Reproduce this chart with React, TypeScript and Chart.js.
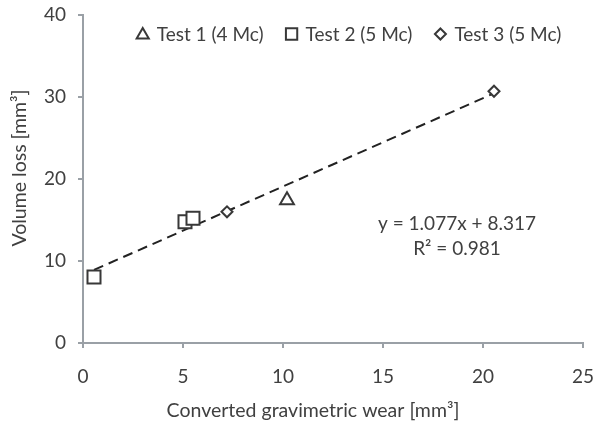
import React, { useEffect, useRef } from "react";
import { Chart, registerables } from "chart.js";

Chart.register(...registerables);

const seriesNames = ["Test 1 (4 Mc)", "Test 2 (5 Mc)", "Test 3 (5 Mc)"];
const test1X = [10.2];
const test1Y = [17.4];
const test2X = [0.55, 5.1, 5.5];
const test2Y = [8.05, 14.8, 15.2];
const test3X = [7.2, 20.55];
const test3Y = [16.0, 30.7];
const trendSlope = 1.077;
const trendIntercept = 8.317;
const rSquared = 0.981;
const xTicks = [0, 5, 10, 15, 20, 25];
const yTicks = [0, 10, 20, 30, 40];
const xTitle = "Converted gravimetric wear [mm³]";
const yTitle = "Volume loss [mm³]";

const FONT = "Lato, 'Open Sans', sans-serif";
const TEXT = "#404040";
const AXIS = "#9aa0a6";
const MARK = "#383838";

function pts(xs: number[], ys: number[]) {
  return xs.map((x, i) => ({ x, y: ys[i] }));
}

const styles = ["triangle", "rect", "rectRot"];

function drawMarker(ctx: CanvasRenderingContext2D, style: string, x: number, y: number, r: number) {
  ctx.beginPath();
  if (style === "triangle") {
    ctx.moveTo(x, y - r);
    ctx.lineTo(x + r * 0.866, y + r * 0.5);
    ctx.lineTo(x - r * 0.866, y + r * 0.5);
    ctx.closePath();
  } else if (style === "rect") {
    const s = r * Math.SQRT1_2;
    ctx.rect(x - s, y - s, 2 * s, 2 * s);
  } else {
    ctx.moveTo(x, y - r);
    ctx.lineTo(x + r, y);
    ctx.lineTo(x, y + r);
    ctx.lineTo(x - r, y);
    ctx.closePath();
  }
  ctx.fillStyle = "#ffffff";
  ctx.fill();
  ctx.stroke();
}

const overlayPlugin = {
  id: "overlay",
  afterDraw(chart: any) {
    const ctx: CanvasRenderingContext2D = chart.ctx;
    const area = chart.chartArea;
    ctx.save();
    // legend
    ctx.font = `19px ${FONT}`;
    ctx.textBaseline = "middle";
    ctx.textAlign = "left";
    const markerW = 12;
    const gapMT = 8;
    const gapItems = 22;
    const widths = seriesNames.map((n) => ctx.measureText(n).width);
    const total = widths.reduce((a, w) => a + markerW + gapMT + w, 0) + gapItems * (seriesNames.length - 1);
    let x = (area.left + area.right) / 2 + 16 - total / 2;
    const y = area.top + 19;
    const legendR = [7, 8, 5.5];
    seriesNames.forEach((n, i) => {
      ctx.strokeStyle = MARK;
      ctx.lineWidth = 2;
      drawMarker(ctx, styles[i], x + markerW / 2, y + (i === 0 ? 1 : 0), legendR[i]);
      ctx.fillStyle = TEXT;
      ctx.fillText(n, x + markerW + gapMT, y + 1);
      x += markerW + gapMT + widths[i] + gapItems;
    });
    // equation
    const sx = chart.scales.x;
    const sy = chart.scales.y;
    const cx = sx.getPixelForValue(18.7);
    const cy = sy.getPixelForValue(14.5);
    ctx.textAlign = "center";
    ctx.fillStyle = TEXT;
    ctx.font = `19px ${FONT}`;
    ctx.fillText(`y = ${trendSlope.toFixed(3)}x + ${trendIntercept.toFixed(3)}`, cx, cy);
    ctx.fillText(`R² = ${rSquared.toFixed(3)}`, cx, cy + 25);
    // axis titles
    ctx.font = `19.5px ${FONT}`;
    ctx.fillText(xTitle, (area.left + area.right) / 2 - 20, 411);
    ctx.translate(20, (area.top + area.bottom) / 2 - 11);
    ctx.rotate(-Math.PI / 2);
    ctx.fillText(yTitle, 0, 0);
    ctx.restore();
  },
};

export default function App() {
  const ref = useRef<HTMLCanvasElement | null>(null);
  useEffect(() => {
    if (!ref.current) return;
    const allX = [...test1X, ...test2X, ...test3X];
    const xMin = Math.min(...allX);
    const xMax = Math.max(...allX);
    const trend = [xMin, xMax].map((x) => ({ x, y: trendSlope * x + trendIntercept }));
    const markerCommon = {
      borderColor: MARK,
      backgroundColor: "#ffffff",
      pointBorderWidth: 2,
      showLine: false,
    };
    const chart = new Chart(ref.current, {
      type: "scatter",
      data: {
        datasets: [
          { label: seriesNames[0], data: pts(test1X, test1Y), pointStyle: "triangle", pointRadius: 8, order: 1, ...markerCommon },
          { label: seriesNames[1], data: pts(test2X, test2Y), pointStyle: "rect", pointRadius: 9.2, order: 1, ...markerCommon },
          { label: seriesNames[2], data: pts(test3X, test3Y), pointStyle: "rectRot", pointRadius: 5.5, order: 1, ...markerCommon },
          {
            label: "Linear fit",
            data: trend,
            type: "line",
            showLine: true,
            borderColor: "#222222",
            borderWidth: 2,
            borderDash: [10, 6],
            pointRadius: 0,
            fill: false,
            order: 10,
          } as any,
        ],
      },
      options: {
        responsive: false,
        animation: false,
        layout: { padding: { top: 15, right: 19, left: 0, bottom: 0 } },
        plugins: {
          legend: { display: false },
          tooltip: { enabled: false },
        },
        scales: {
          x: {
            type: "linear",
            min: xTicks[0],
            max: xTicks[xTicks.length - 1],
            afterBuildTicks: (s: any) => {
              s.ticks = xTicks.map((v) => ({ value: v }));
            },
            afterFit: (s: any) => {
              s.height = 89;
              s.paddingLeft = 0;
              s.paddingRight = 0;
            },
            ticks: { color: TEXT, font: { family: FONT, size: 19 }, padding: 17 },
            grid: { display: true, drawOnChartArea: false, drawTicks: true, tickLength: 5, color: AXIS, lineWidth: 2 },
            border: { display: true, color: AXIS, width: 2 },
            title: { display: false },
          },
          y: {
            type: "linear",
            min: yTicks[0],
            max: yTicks[yTicks.length - 1],
            afterBuildTicks: (s: any) => {
              s.ticks = yTicks.map((v) => ({ value: v }));
            },
            afterFit: (s: any) => {
              s.width = 83;
              s.paddingTop = 0;
              s.paddingBottom = 0;
            },
            ticks: { color: TEXT, font: { family: FONT, size: 19 }, padding: 12 },
            grid: { display: true, drawOnChartArea: false, drawTicks: true, tickLength: 5, color: AXIS, lineWidth: 2 },
            border: { display: true, color: AXIS, width: 2 },
            title: { display: false },
          },
        },
      },
      plugins: [overlayPlugin],
    });
    return () => chart.destroy();
  }, []);
  return (
    <div style={{ position: "absolute", left: 0, top: 0, width: 602, height: 432, background: "#ffffff" }}>
      <canvas ref={ref} width={602} height={432} />
    </div>
  );
}
